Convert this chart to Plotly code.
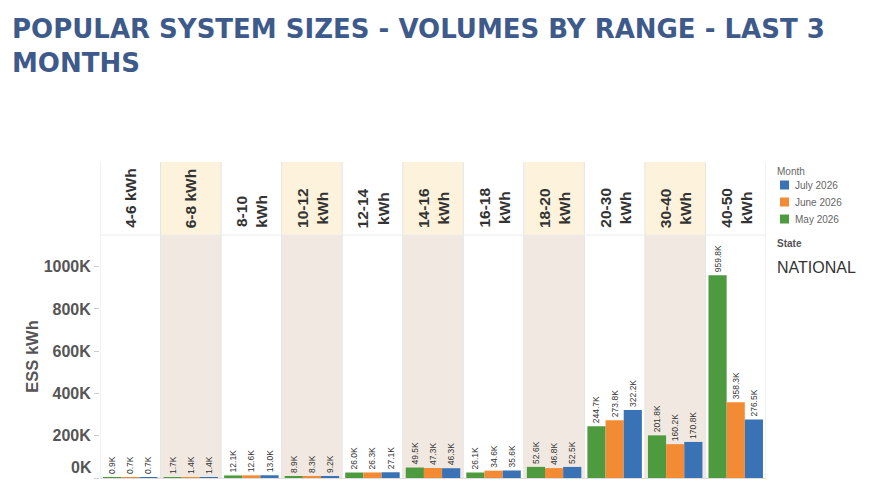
import plotly.graph_objects as go

# values in thousands of kWh (K)
ranges = ["4-6 kWh", "6-8 kWh", "8-10 kWh", "10-12 kWh", "12-14 kWh", "14-16 kWh",
          "16-18 kWh", "18-20 kWh", "20-30 kWh", "30-40 kWh", "40-50 kWh"]
header_labels = ["4-6 kWh", "6-8 kWh", "8-10<br>kWh", "10-12<br>kWh", "12-14<br>kWh",
                 "14-16<br>kWh", "16-18<br>kWh", "18-20<br>kWh", "20-30<br>kWh",
                 "30-40<br>kWh", "40-50<br>kWh"]
may_2026 = [0.9, 1.7, 12.1, 8.9, 26.0, 49.5, 26.1, 52.6, 244.7, 201.8, 959.8]
june_2026 = [0.7, 1.4, 12.6, 8.3, 26.3, 47.3, 34.6, 46.8, 273.8, 160.2, 358.3]
july_2026 = [0.7, 1.4, 13.0, 9.2, 27.1, 46.3, 35.6, 52.5, 322.2, 170.8, 276.5]
y_ticks = [0, 200, 400, 600, 800, 1000]

series = [("May 2026", may_2026, "#4e9a3e"),
          ("June 2026", june_2026, "#f28b34"),
          ("July 2026", july_2026, "#3a72b6")]

# the page adds an 8px body margin, so the figure is 8px smaller and
# positions below are given in page pixels then turned into paper coords
PL, PR, PT, PB = 100, 766, 162, 478
plot_top = (PB - 235) / (PB - PT)  # top of bar area, header above it


def px(x):
    return (x - PL) / (PR - PL)


def py(y):
    return (PB - y) / (PB - PT)


fig = go.Figure()
for name, vals, col in series:
    fig.add_trace(go.Bar(
        x=ranges, y=vals, name=name, marker_color=col, marker_line_width=0,
        texttemplate="%{y:.1f}K", textposition="outside",
        textangle=-90, constraintext="none", cliponaxis=False,
        textfont=dict(size=8.5, color="#333", family="Liberation Sans"),
        showlegend=False,
    ))

shapes = []
for i, r in enumerate(ranges):
    if i % 2 == 1:
        shapes.append(dict(type="rect", xref="x", yref="paper", x0=i - 0.5, x1=i + 0.5,
                           y0=0, y1=plot_top, fillcolor="#f1e9e1", line_width=0, layer="below"))
        shapes.append(dict(type="rect", xref="x", yref="paper", x0=i - 0.5, x1=i + 0.5,
                           y0=plot_top, y1=1, fillcolor="#fdf3dc", line_width=0, layer="below"))
    shapes.append(dict(type="line", xref="x", yref="paper", x0=i - 0.5, x1=i - 0.5,
                       y0=0, y1=1, line=dict(color="#e4e4e4", width=1), layer="below"))
shapes.append(dict(type="line", xref="x", yref="paper", x0=10.5, x1=10.5,
                   y0=0, y1=1, line=dict(color="#e4e4e4", width=1), layer="below"))
shapes.append(dict(type="line", xref="x", yref="paper", x0=-0.5, x1=10.5,
                   y0=plot_top, y1=plot_top, line=dict(color="#ececec", width=1), layer="below"))

annotations = []
for r, lab in zip(ranges, header_labels):
    annotations.append(dict(x=r, xref="x", y=py(230), yref="paper",
                            text=f"<b>{lab}</b>", textangle=-90, showarrow=False,
                            xanchor="center", yanchor="bottom",
                            font=dict(size=15.5, color="#333", family="Liberation Sans")))

# title
annotations.append(dict(x=px(10), y=py(12), xref="paper", yref="paper",
                        text="<b>POPULAR SYSTEM SIZES - VOLUMES BY RANGE - LAST 3<br>MONTHS</b>",
                        showarrow=False, xanchor="left", yanchor="top", align="left",
                        font=dict(size=26, color="#3e5a8b", family="DejaVu Sans")))

# 0K label sits a little above its tick, as in the source
annotations.append(dict(x=px(94), y=py(467), xref="paper", yref="paper", text="<b>0K</b>",
                        showarrow=False, xanchor="right", yanchor="middle",
                        font=dict(size=16, color="#555", family="Liberation Sans")))

# legend: Month
legend_y = [185, 202, 219]
annotations.append(dict(x=px(775), y=py(171), xref="paper", yref="paper", text="Month",
                        showarrow=False, xanchor="left", yanchor="middle",
                        font=dict(size=10, color="#666", family="Liberation Sans")))
for (name, vals, col), ly in zip(reversed(series), legend_y):
    shapes.append(dict(type="rect", xref="paper", yref="paper",
                       x0=px(780), x1=px(789), y0=py(ly + 4.5), y1=py(ly - 4.5),
                       fillcolor=col, line_width=0))
    annotations.append(dict(x=px(793), y=py(ly), xref="paper", yref="paper", text=name,
                            showarrow=False, xanchor="left", yanchor="middle",
                            font=dict(size=10, color="#666", family="Liberation Sans")))

annotations.append(dict(x=px(775), y=py(243), xref="paper", yref="paper", text="<b>State</b>",
                        showarrow=False, xanchor="left", yanchor="middle",
                        font=dict(size=10, color="#555", family="Liberation Sans")))
annotations.append(dict(x=px(775), y=py(267), xref="paper", yref="paper", text="NATIONAL",
                        showarrow=False, xanchor="left", yanchor="middle",
                        font=dict(size=16, color="#333", family="Liberation Sans")))

fig.update_layout(
    width=865, height=492,
    margin=dict(l=PL - 8, r=873 - PR, t=PT - 8, b=500 - PB, autoexpand=False),
    paper_bgcolor="white", plot_bgcolor="white",
    barmode="group", bargap=0.1, bargroupgap=0,
    showlegend=False,
    shapes=shapes, annotations=annotations,
    font=dict(family="Liberation Sans"),
)
fig.update_xaxes(type="category", range=[-0.5, 10.5], showticklabels=False,
                 showline=True, linecolor="#dddddd", showgrid=False, ticks="")
fig.update_yaxes(domain=[0, plot_top], range=[0, 1150], tickvals=y_ticks,
                 ticktext=[""] + [f"<b>{v}K</b>" for v in y_ticks[1:]], ticks="outside",
                 tickcolor="#cccccc", ticklen=5, showgrid=False, zeroline=False,
                 tickfont=dict(size=16, color="#555"),
                 title=dict(text="<b>ESS kWh</b>", font=dict(size=16.5, color="#555"), standoff=0))

fig.write_html("out.html")
